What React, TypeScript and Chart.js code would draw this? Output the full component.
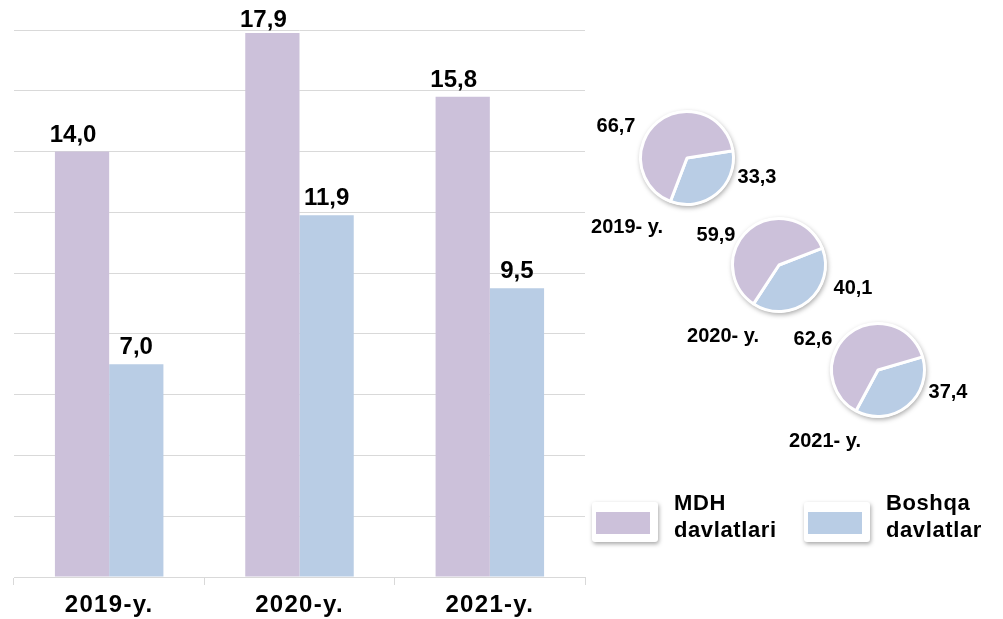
import React, { useEffect, useRef } from "react";
import { Chart, registerables } from "chart.js";
Chart.register(...registerables);

// ---- data ----
const categories = ["2019-y.", "2020-y.", "2021-y."];
const mdhValues = [14.0, 17.9, 15.8];
const boshqaValues = [7.0, 11.9, 9.5];
const seriesNames = ["MDH davlatlari", "Boshqa davlatlar"];
const pieYears = ["2019- y.", "2020- y.", "2021- y."];
const pieMdhShares = [66.7, 59.9, 62.6];
const pieBoshqaShares = [33.3, 40.1, 37.4];
const yMax = 18;
const yStep = 2;

// ---- styles ----
const PURPLE = "#CCC1DA";
const BLUE = "#B9CDE5";
const GRID = "#D9D9D9";
const FONT = '"Liberation Sans", Arial, sans-serif';
const LABEL_DX = [-9, 0];

const fmt = (v: number) => v.toFixed(1).replace(".", ",");

// pie layout (centers)
const pieCenters = [
  { x: 687, y: 158 },
  { x: 779, y: 265 },
  { x: 878, y: 370 },
];
const pieMdhLabelPos = [
  { x: 616, y: 125 },
  { x: 716, y: 234 },
  { x: 813, y: 338 },
];
const pieBoshqaLabelPos = [
  { x: 757, y: 176 },
  { x: 853, y: 287 },
  { x: 948, y: 391 },
];
const pieYearLabelPos = [
  { x: 627, y: 226 },
  { x: 723, y: 335 },
  { x: 825, y: 440 },
];

const letterSpacingPlugin = {
  id: "axisLetterSpacing",
  beforeDraw(chart: any) {
    (chart.ctx as any).letterSpacing = "1.3px";
  },
  beforeDatasetsDraw(chart: any) {
    (chart.ctx as any).letterSpacing = "0px";
  },
};

const valueLabelPlugin = {
  id: "valueLabels",
  afterDatasetsDraw(chart: any) {
    const ctx = chart.ctx;
    ctx.save();
    (ctx as any).letterSpacing = "0px";
    ctx.font = `bold 24px ${FONT}`;
    ctx.fillStyle = "#000";
    ctx.textAlign = "center";
    ctx.textBaseline = "alphabetic";
    chart.data.datasets.forEach((ds: any, di: number) => {
      const meta = chart.getDatasetMeta(di);
      meta.data.forEach((bar: any, i: number) => {
        ctx.fillText(fmt(ds.data[i]), bar.x + LABEL_DX[di], Math.max(bar.y - 10, 27));
      });
    });
    ctx.restore();
  },
};

const pieShadowPlugin = {
  id: "pieShadow",
  beforeDatasetsDraw(chart: any) {
    const meta = chart.getDatasetMeta(0);
    const arc = meta.data[0];
    if (!arc) return;
    const ctx = chart.ctx;
    ctx.save();
    ctx.shadowColor = "rgba(0,0,0,0.35)";
    ctx.shadowBlur = 5;
    ctx.shadowOffsetX = 1;
    ctx.shadowOffsetY = 2;
    ctx.beginPath();
    ctx.arc(arc.x, arc.y, arc.outerRadius + 1, 0, Math.PI * 2);
    ctx.fillStyle = "#fff";
    ctx.fill();
    ctx.restore();
  },
};

function BarChart() {
  const ref = useRef<HTMLCanvasElement>(null);
  useEffect(() => {
    if (!ref.current) return;
    const chart = new Chart(ref.current, {
      type: "bar",
      data: {
        labels: categories,
        datasets: [
          {
            label: seriesNames[0],
            data: mdhValues,
            backgroundColor: PURPLE,
            categoryPercentage: 0.57,
            barPercentage: 1,
          },
          {
            label: seriesNames[1],
            data: boshqaValues,
            backgroundColor: BLUE,
            categoryPercentage: 0.57,
            barPercentage: 1,
          },
        ],
      },
      options: {
        animation: false,
        responsive: false,
        maintainAspectRatio: false,
        layout: { padding: { left: 14, right: 15, top: 30, bottom: 0 } },
        plugins: { legend: { display: false }, tooltip: { enabled: false } },
        scales: {
          x: {
            grid: {
              display: true,
              drawOnChartArea: false,
              drawTicks: true,
              tickLength: 8,
              color: GRID,
              offset: true,
            },
            border: { color: GRID },
            ticks: {
              font: { family: FONT, size: 24, weight: "bold" },
              color: "#000",
              padding: 6,
            },
            afterFit: (s: any) => {
              s.height = 42;
            },
          },
          y: {
            min: 0,
            max: yMax,
            ticks: { display: false, stepSize: yStep },
            grid: { color: GRID, drawTicks: false },
            border: { display: false },
          },
        },
      } as any,
      plugins: [letterSpacingPlugin, valueLabelPlugin],
    });
    return () => chart.destroy();
  }, []);
  return (
    <canvas
      ref={ref}
      width={600}
      height={619}
      style={{ position: "absolute", left: 0, top: 0, width: 600, height: 619 }}
    />
  );
}

function PieChart({ index }: { index: number }) {
  const ref = useRef<HTMLCanvasElement>(null);
  const S = 116;
  useEffect(() => {
    if (!ref.current) return;
    const b = pieBoshqaShares[index];
    const m = pieMdhShares[index];
    const chart = new Chart(ref.current, {
      type: "pie",
      data: {
        labels: [seriesNames[1], seriesNames[0]],
        datasets: [
          {
            data: [b, m],
            backgroundColor: [BLUE, PURPLE],
            borderColor: "#fff",
            borderWidth: 3,
          },
        ],
      },
      options: {
        animation: false,
        responsive: false,
        maintainAspectRatio: false,
        rotation: 141 - b * 1.8,
        layout: { padding: 10 },
        plugins: { legend: { display: false }, tooltip: { enabled: false } },
      } as any,
      plugins: [pieShadowPlugin],
    });
    return () => chart.destroy();
  }, [index]);
  const c = pieCenters[index];
  return (
    <canvas
      ref={ref}
      width={S}
      height={S}
      style={{ position: "absolute", left: c.x - S / 2, top: c.y - S / 2, width: S, height: S }}
    />
  );
}

function Label({ x, y, text, size = 20 }: { x: number; y: number; text: string; size?: number }) {
  return (
    <div
      style={{
        position: "absolute",
        left: x,
        top: y,
        transform: "translate(-50%, -50%)",
        font: `bold ${size}px ${FONT}`,
        lineHeight: 1,
        whiteSpace: "nowrap",
        color: "#000",
      }}
    >
      {text}
    </div>
  );
}

function LegendItem({ x, color, name }: { x: number; color: string; name: string }) {
  const words = name.split(" ");
  return (
    <>
      <div
        style={{
          position: "absolute",
          left: x,
          top: 502,
          width: 66,
          height: 40,
          background: "#fff",
          borderRadius: 3,
          boxShadow: "1px 2px 4px rgba(0,0,0,0.35)",
        }}
      >
        <div
          style={{
            position: "absolute",
            left: 4,
            top: 10,
            width: 54,
            height: 22,
            background: color,
          }}
        />
      </div>
      <div
        style={{
          position: "absolute",
          left: x + 82,
          top: 489,
          font: `bold 22px ${FONT}`,
          lineHeight: "27px",
          letterSpacing: "0.6px",
          color: "#000",
          whiteSpace: "nowrap",
        }}
      >
        {words[0]}
        <br />
        {words.slice(1).join(" ")}
      </div>
    </>
  );
}

export default function App() {
  return (
    <div
      style={{
        position: "absolute",
        left: 0,
        top: 0,
        width: 1003,
        height: 619,
        background: "#fff",
        overflow: "hidden",
      }}
    >
      <BarChart />
      {pieYears.map((_, i) => (
        <PieChart key={i} index={i} />
      ))}
      {pieYears.map((yr, i) => (
        <React.Fragment key={"l" + i}>
          <Label x={pieMdhLabelPos[i].x} y={pieMdhLabelPos[i].y} text={fmt(pieMdhShares[i])} />
          <Label x={pieBoshqaLabelPos[i].x} y={pieBoshqaLabelPos[i].y} text={fmt(pieBoshqaShares[i])} />
          <Label x={pieYearLabelPos[i].x} y={pieYearLabelPos[i].y} text={yr} />
        </React.Fragment>
      ))}
      <LegendItem x={592} color={PURPLE} name={seriesNames[0]} />
      <LegendItem x={804} color={BLUE} name={seriesNames[1]} />
    </div>
  );
}
